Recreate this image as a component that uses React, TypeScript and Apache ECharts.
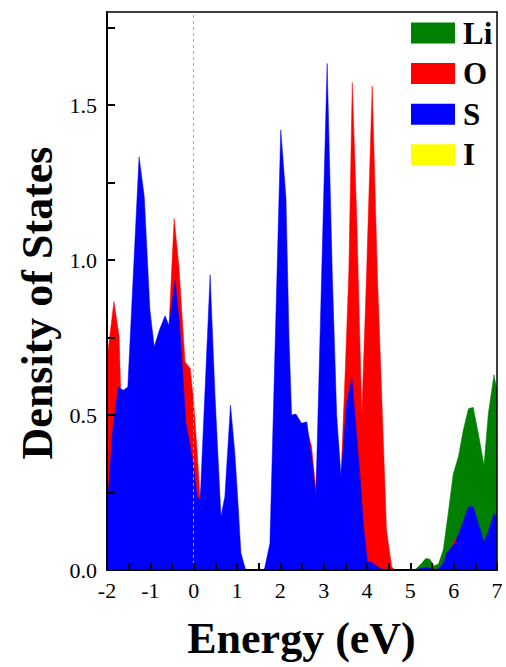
import React, { useEffect, useRef } from "react";
import * as echarts from "echarts";

// Li (green)
const liE = [-2.0, 5.1, 5.25, 5.36, 5.45, 5.55, 5.65, 5.76, 5.88, 5.99, 6.11, 6.22, 6.34, 6.45, 6.57, 6.70, 6.80, 6.93, 7.0];
const liV = [0, 0, 0.02, 0.038, 0.035, 0.013, 0.02, 0.065, 0.19, 0.31, 0.366, 0.45, 0.52, 0.525, 0.44, 0.339, 0.505, 0.63, 0.58];

// O (red)
const oE = [-2.0, -1.84, -1.72, -1.66, -1.5, -1.26, -1.0, -0.8, -0.6, -0.45, -0.34, -0.2, -0.08, 0.0, 0.08, 0.15, 0.38, 0.63, 0.85, 1.09, 1.2, 1.63, 1.76, 2.01, 2.26, 2.49, 2.61, 2.72, 2.82, 3.08, 3.3, 3.4, 3.5, 3.58, 3.66, 3.76, 3.88, 3.99, 4.12, 4.24, 4.34, 4.45, 4.57, 4.65, 5.7, 5.85, 6.03, 6.18, 6.45, 6.7, 7.0];
const oV = [0.68, 0.866, 0.753, 0.45, 0.45, 1.0, 0.6, 0.6, 0.7, 1.134, 0.978, 0.672, 0.65, 0.54, 0.38, 0.226, 0.5, 0.1, 0.3, 0.03, 0, 0, 0.05, 0.8, 0.4, 0.4, 0.45, 0.4, 0.26, 0.9, 0.35, 0.3, 0.65, 0.96, 1.572, 1.15, 0.5, 0.957, 1.561, 0.95, 0.56, 0.129, 0.01, 0, 0, 0.04, 0.1, 0.12, 0.15, 0.07, 0.12];

// S (blue)
const sE = [-2.0, -1.87, -1.74, -1.62, -1.52, -1.26, -1.14, -1.01, -0.91, -0.79, -0.66, -0.57, -0.43, -0.32, -0.18, -0.08, 0.0, 0.08, 0.15, 0.38, 0.49, 0.63, 0.72, 0.85, 0.95, 1.03, 1.09, 1.2, 1.63, 1.76, 2.01, 2.13, 2.2, 2.26, 2.36, 2.49, 2.61, 2.72, 2.82, 3.08, 3.2, 3.3, 3.4, 3.53, 3.65, 3.84, 3.92, 4.01, 4.1, 4.25, 4.38, 5.1, 5.36, 5.55, 5.65, 5.76, 5.84, 6.03, 6.18, 6.34, 6.45, 6.57, 6.70, 6.80, 6.93, 7.0];
const sV = [0.19, 0.45, 0.59, 0.58, 0.59, 1.333, 1.204, 0.839, 0.72, 0.774, 0.82, 0.788, 0.935, 0.785, 0.473, 0.4, 0.333, 0.237, 0.226, 0.952, 0.57, 0.172, 0.237, 0.532, 0.377, 0.2, 0.055, 0, 0, 0.086, 1.42, 1.2, 0.75, 0.5, 0.503, 0.473, 0.478, 0.366, 0.237, 1.634, 0.95, 0.5, 0.3, 0.54, 0.62, 0.3, 0.14, 0.027, 0.025, 0.01, 0, 0, 0.01, 0, 0.005, 0.02, 0.055, 0.086, 0.14, 0.204, 0.204, 0.15, 0.09, 0.124, 0.183, 0.17];

// I (yellow) - not visible above the others
const iE = [-2.0, 7.0];
const iV = [0, 0];

const names = ["Li", "O", "S", "I"];
const colors = ["#008000", "#ff0000", "#0000ff", "#ffff00"];

const FONT = "'Liberation Serif', 'Times New Roman', serif";

const pairs = (e: number[], v: number[]) => e.map((x, i) => [x, v[i]]);

export default function App() {
  const ref = useRef<HTMLDivElement>(null);
  useEffect(() => {
    if (!ref.current) return;
    const chart = echarts.init(ref.current, undefined, { renderer: "svg" });
    const datasets = [pairs(liE, liV), pairs(oE, oV), pairs(sE, sV), pairs(iE, iV)];
    const series: any[] = names.map((n, k) => ({
      name: n,
      type: "line",
      data: datasets[k],
      showSymbol: false,
      symbol: "none",
      color: colors[k],
      lineStyle: { width: 0.5, color: colors[k] },
      areaStyle: { color: colors[k], opacity: 1 },
      z: 2 + k,
    }));
    series[3].markLine = {
      silent: true,
      symbol: "none",
      label: { show: false },
      lineStyle: { type: [3, 3], color: "#aaaaaa", width: 1 },
      data: [{ xAxis: 0 }],
    };
    chart.setOption({
      animation: false,
      backgroundColor: "#ffffff",
      grid: { left: 107, right: 9, top: 12, bottom: 97, show: false },
      legend: {
        data: names,
        orient: "vertical",
        left: 411,
        top: 17.5,
        itemWidth: 44,
        itemHeight: 21,
        itemGap: 9.6,
        icon: "rect",
        padding: 0,
        z: 20,
        textStyle: { fontFamily: FONT, fontWeight: "bold", fontSize: 31, color: "#000", padding: [0, 0, 0, 3] },
      },
      xAxis: [
        {
          type: "value",
          min: -2,
          max: 7,
          interval: 0.5,
          z: 10,
          axisLine: { show: true, onZero: false, lineStyle: { color: "#000", width: 2 } },
          axisTick: { show: true, inside: true, length: 7, lineStyle: { color: "#000", width: 2 } },
          axisLabel: {
            fontFamily: FONT,
            fontSize: 22,
            color: "#000",
            margin: 9,
            formatter: (v: number) => (Number.isInteger(v) ? String(v) : ""),
          },
          splitLine: { show: false },
        },
        {
          type: "value",
          position: "top",
          min: -2,
          max: 7,
          z: 10,
          axisLine: { show: true, onZero: false, lineStyle: { color: "#000", width: 1.5 } },
          axisTick: { show: false },
          axisLabel: { show: false },
          splitLine: { show: false },
        },
      ],
      yAxis: [
        {
          type: "value",
          min: 0,
          max: 1.8,
          interval: 0.25,
          z: 10,
          axisLine: { show: true, onZero: false, lineStyle: { color: "#000", width: 2 } },
          axisTick: { show: true, inside: true, length: 8, lineStyle: { color: "#000", width: 2 } },
          axisLabel: {
            fontFamily: FONT,
            fontSize: 22,
            color: "#000",
            margin: 10,
            showMaxLabel: false,
            formatter: (v: number) => (Math.abs(v * 2 - Math.round(v * 2)) < 1e-6 ? v.toFixed(1) : ""),
          },
          splitLine: { show: false },
        },
        {
          type: "value",
          position: "right",
          min: 0,
          max: 1.8,
          z: 10,
          axisLine: { show: true, onZero: false, lineStyle: { color: "#000", width: 1.5 } },
          axisTick: { show: false },
          axisLabel: { show: false },
          splitLine: { show: false },
        },
      ],
      graphic: [
        {
          type: "text",
          x: 301.5,
          y: 638,
          style: {
            text: "Energy (eV)",
            font: `bold 44px ${FONT}`,
            fill: "#000",
            align: "center",
            verticalAlign: "middle",
          },
        },
        {
          type: "text",
          x: 37,
          y: 303,
          rotation: Math.PI / 2,
          style: {
            text: "Density of States",
            font: `bold 44px ${FONT}`,
            fill: "#000",
            align: "center",
            verticalAlign: "middle",
          },
        },
      ],
      series,
    });
    return () => chart.dispose();
  }, []);
  return <div ref={ref} style={{ position: "fixed", left: 0, top: 0, width: 506, height: 667 }} />;
}
